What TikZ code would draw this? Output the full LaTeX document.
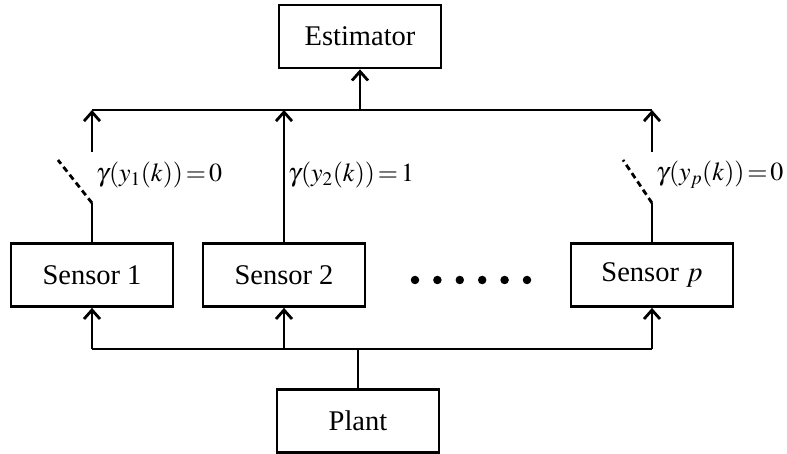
\documentclass[tikz,border=0pt]{standalone}
\usepackage{mathptmx}
\usepackage[no-math]{fontspec}
\setmainfont{Liberation Serif}
\usetikzlibrary{arrows.meta}
\newcommand{\tightrel}{\thickmuskip=2mu\relax}
\begin{document}
\begin{tikzpicture}[x=1pt,y=-1pt,
  box/.style={draw,line width=2.8pt,minimum width=162pt,minimum height=63pt,inner sep=0pt,font=\fontsize{28.5pt}{34pt}\selectfont},
  wire/.style={line width=2.8pt},
  arr/.style={wire,-{Straight Barb[length=9pt,width=16pt,line width=2.8pt]}},
  sw/.style={line width=2.8pt,dash pattern=on 6pt off 4pt},
  lab/.style={anchor=west,inner sep=0pt,xshift=4pt,font=\fontsize{26pt}{31pt}\selectfont\tightrel},
  dot/.style={circle,fill,inner sep=0pt,minimum size=8.5pt}]
\useasboundingbox (0,0) rectangle (787,454);
\node[box] (est) at (360,36.5) {Estimator};
\node[box] (s1) at (92,275) {Sensor 1};
\node[box] (s2) at (284,275) {Sensor 2};
\node[box] (sp) at (652,275) {Sensor $p$};
\node[box] (plant) at (358,421) {Plant};
\foreach \i in {0,...,5} \node[dot] (d\i) at (415+\i*22.4,280) {};
\coordinate (bustop) at (0,110);
\coordinate (busbot) at (0,349);
\coordinate (swlow) at (0,203);
\coordinate (swhigh) at (0,152);
\coordinate (labrow) at (0,175);
\coordinate (sw1b) at (58,160);
\coordinate (swpb) at (623,160);
% sensor 1 branch with open switch
\draw[wire] (s1.north) -- (s1.north |- swlow);
\draw[sw] (s1.north |- swlow) -- (sw1b);
\draw[arr] (s1.north |- swhigh) -- (s1.north |- bustop);
% sensor 2 branch closed
\draw[arr] (s2.north) -- (s2.north |- bustop);
% sensor p branch with open switch
\draw[wire] (sp.north) -- (sp.north |- swlow);
\draw[sw] (sp.north |- swlow) -- (swpb);
\draw[arr] (sp.north |- swhigh) -- (sp.north |- bustop);
% top bus
\draw[wire] (s1.north |- bustop) -- (sp.north |- bustop);
\draw[arr] (est.south |- bustop) -- (est.south);
% bottom bus
\draw[wire] (plant.north) -- (plant.north |- busbot);
\draw[wire] (s1.south |- busbot) -- (sp.south |- busbot);
\draw[arr] (s1.south |- busbot) -- (s1.south);
\draw[arr] (s2.south |- busbot) -- (s2.south);
\draw[arr] (sp.south |- busbot) -- (sp.south);
% labels
\node[lab] (l1) at (s1.north |- labrow) {$\gamma(y_1(k))=0$};
\node[lab] (l2) at (s2.north |- labrow) {$\gamma(y_2(k))=1$};
\node[lab] (lp) at (sp.north |- labrow) {$\gamma(y_p(k))=0$};
\end{tikzpicture}
\end{document}
